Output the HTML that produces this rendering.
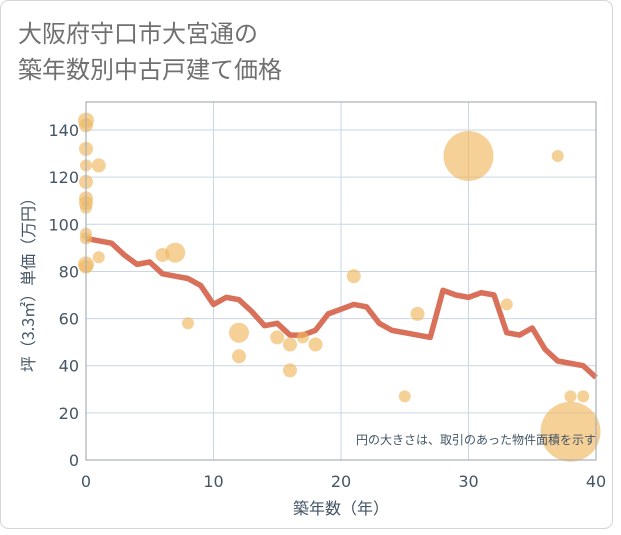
<!DOCTYPE html>
<html><head><meta charset="utf-8"><style>
body{margin:0;background:#fff;width:621px;height:530px;overflow:hidden;font-family:"Liberation Sans","Noto Sans CJK JP",sans-serif}
</style></head><body>
<svg width="621" height="530" xmlns="http://www.w3.org/2000/svg">
<rect x="0.5" y="0.5" width="612" height="528" rx="8" fill="#fff" stroke="#d6d6d6"/>
<text x="18" y="42" font-size="24" fill="#707070" font-family="Noto Sans CJK JP,sans-serif">大阪府守口市大宮通の</text>
<text x="18" y="78" font-size="24" fill="#707070" font-family="Noto Sans CJK JP,sans-serif">築年数別中古戸建て価格</text>
<g id="grid"></g>
<g id="line"></g>
<g id="bubbles"></g>
<rect x="86" y="102" width="510" height="358" fill="none" stroke="#a9b0b8" stroke-width="1.2"/>
<g id="ticks"></g>
<text x="596" y="444" font-size="12" fill="#445566" text-anchor="end" font-family="Noto Sans CJK JP,sans-serif">円の大きさは、取引のあった物件面積を示す</text>
<text x="341" y="514" font-size="16" fill="#445566" text-anchor="middle" font-family="Noto Sans CJK JP,sans-serif">築年数（年）</text>
<text transform="translate(34,281) rotate(-90)" font-size="16" fill="#445566" text-anchor="middle" font-family="Noto Sans CJK JP,sans-serif">坪（3.3㎡）単価（万円）</text>
</svg>
<script>
const xTicks=[0,10,20,30,40];
const yTicks=[0,20,40,60,80,100,120,140];
const lineYears=[0,1,2,3,4,5,6,7,8,9,10,11,12,13,14,15,16,17,18,19,20,21,22,23,24,25,26,27,28,29,30,31,32,33,34,35,36,37,38,39,40];
const lineValues=[94,93,92,87,83,84,79,78,77,74,66,69,68,63,57,58,53,53,55,62,64,66,65,58,55,54,53,52,72,70,69,71,70,54,53,56,47,42,41,40,35];
const bubbleYears=[0,0,0,0,1,0,0,0,0,0,0,1,0,0,6,7,8,12,12,15,16,16,17,18,21,25,26,30,33,37,38,39,38];
const bubbleValues=[144,142,132,125,125,118,111,109,107,96,94,86,83,82,87,88,58,54,44,52,49,38,52,49,78,27,62,129,66,129,27,27,12];
const bubbleSizes=[8,7,7,6,7,7,7,7,6,6,6,6,8,7,7,10,6,10,7,7,7,7,6,7,7,6,7,25,6,6,6,6,30];
const NS="http://www.w3.org/2000/svg";
const X=v=>86+v*12.75, Y=v=>460-v*2.357;
function mk(t,a,p){const e=document.createElementNS(NS,t);for(const k in a)e.setAttribute(k,a[k]);p.appendChild(e);return e;}
const g=document.getElementById('grid'),tk=document.getElementById('ticks');
xTicks.forEach(v=>{
 const l=mk('line',{x1:X(v),x2:X(v),y1:102,y2:460,stroke:'#c9d6e3','stroke-width':1},g);
 
 
 const t=mk('text',{x:X(v),y:487,'font-size':16,fill:'#445566','text-anchor':'middle','font-family':'DejaVu Sans,sans-serif'},tk);
 t.textContent=v;
 
 
});
yTicks.forEach(v=>{
 const l=mk('line',{x1:86,x2:596,y1:Y(v),y2:Y(v),stroke:'#c9d6e3','stroke-width':1},g);
 
 
 const t=mk('text',{x:79,y:Y(v)+6,'font-size':16,fill:'#445566','text-anchor':'end','font-family':'DejaVu Sans,sans-serif'},tk);
 t.textContent=v;
 
 
});
const pts=lineYears.map((y,i)=>X(y)+','+Y(lineValues[i])).join(' ');
const pl=mk('polyline',{points:pts,fill:'none',stroke:'#d9705a','stroke-width':5.5,'stroke-linejoin':'round'},document.getElementById('line'));


const bg=document.getElementById('bubbles');
bubbleYears.forEach((y,i)=>{
 const c=mk('circle',{cx:X(y),cy:Y(bubbleValues[i]),r:bubbleSizes[i],fill:'#f0b760','fill-opacity':0.65},bg);
 
 
});
</script>
</body></html>
